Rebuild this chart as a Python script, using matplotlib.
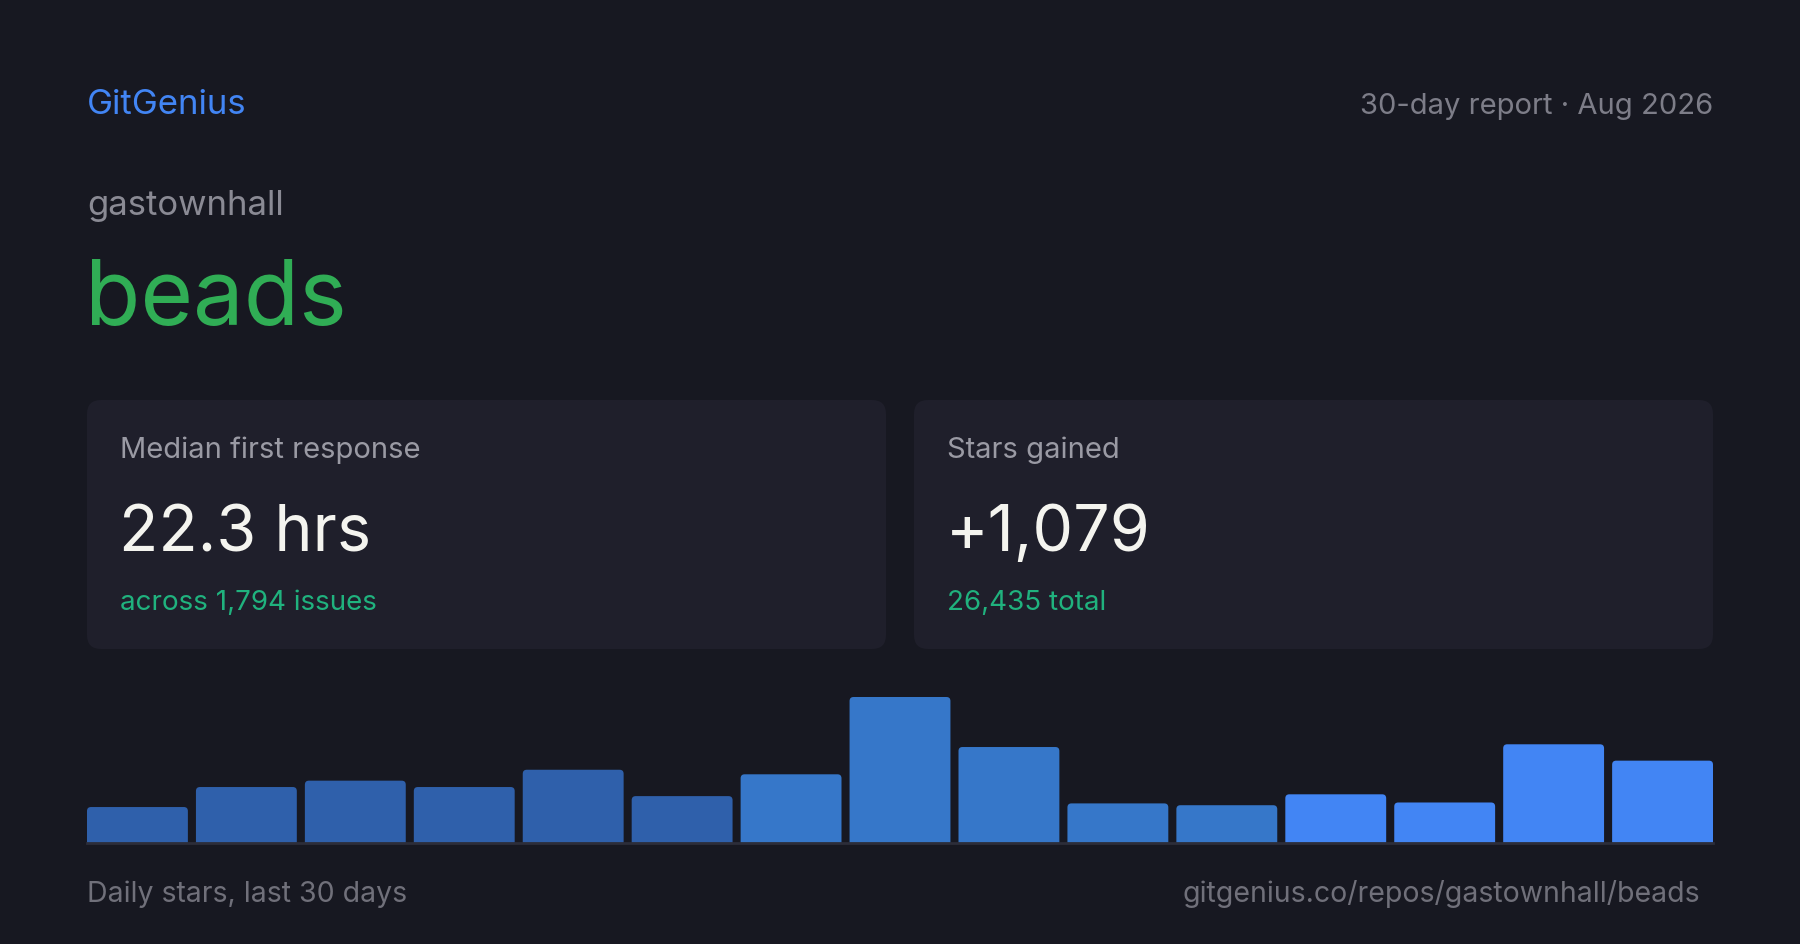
import matplotlib
matplotlib.use('Agg')
import matplotlib.pyplot as plt
from matplotlib.patches import FancyBboxPatch

# data
brand = 'GitGenius'
report_label = '30-day report \u00b7 Aug 2026'
owner = 'gastownhall'
repo = 'beads'
card_titles = ['Median first response', 'Stars gained']
card_values = ['22.3 hrs', '+1,079']
card_notes = ['across 1,794 issues', '26,435 total']
daily_stars = [39, 61, 68, 61, 80, 51, 75, 160, 105, 43, 41, 53, 44, 108, 90]
footer_left = 'Daily stars, last 30 days'
footer_right = 'gitgenius.co/repos/gastownhall/beads'

# colours
BG = '#171821'
CARD = '#1f1f2b'
bar_colors = ['#2f60ab'] * 6 + ['#3677c9'] * 5 + ['#4285f4'] * 4

plt.rcParams['font.family'] = ['Inter', 'DejaVu Sans']

W, H = 1800, 945
fig = plt.figure(figsize=(W / 100, H / 100), dpi=100, facecolor=BG)

# full-figure axes in pixel units for text and cards
ax0 = fig.add_axes([0, 0, 1, 1])
ax0.set_xlim(0, W)
ax0.set_ylim(H, 0)
ax0.axis('off')
ax0.set_facecolor(BG)

ax0.text(87, 114, brand, color='#4285f4', fontsize=25, va='baseline')
ax0.text(1713, 114, report_label, color='#7d7d88', fontsize=21, va='baseline', ha='right')
ax0.text(87, 215, owner, color='#8a8a94', fontsize=25, va='baseline')
ax0.text(85, 324, repo, color='#30ad55', fontsize=65, va='baseline')

card_x = [87, 914]
for i in range(2):
    x = card_x[i]
    ax0.add_patch(FancyBboxPatch((x, 401), 799, 249,
                                 boxstyle='round,pad=0,rounding_size=14',
                                 facecolor=CARD, edgecolor='none'))
    ax0.text(x + 33, 458, card_titles[i], color='#9a9aa4', fontsize=21, va='baseline')
    ax0.text(x + 32, 551, card_values[i], color='#f4f4ef', fontsize=46.5, va='baseline')
    ax0.text(x + 33, 610, card_notes[i], color='#20b27e', fontsize=20, va='baseline')

ax0.text(87, 902, footer_left, color='#70707a', fontsize=20.5, va='baseline')
ax0.text(1700, 902, footer_right, color='#70707a', fontsize=20.5, va='baseline', ha='right')

# bar chart
left_px, right_px, base_px, top_px = 87, 1713, 843.5, 698
ax = fig.add_axes([left_px / W, (H - base_px) / H, (right_px - left_px) / W, (base_px - top_px) / H])
ax.set_facecolor('none')
bw = 0.926
n = len(daily_stars)
ax.set_xlim(-bw / 2, n - 1 + bw / 2)
ax.set_ylim(0, max(daily_stars))
ax.axis('off')

bars = ax.bar(range(n), daily_stars, width=bw, color=bar_colors)
# rounded tops: replace each bar by a rounded box of the same size
px_per_x = (right_px - left_px) / (n - 1 + bw)
px_per_y = (base_px - top_px) / max(daily_stars)
r_px = 4
for b in bars:
    b.set_visible(False)
    rx = r_px / px_per_x
    ry = r_px / px_per_y
    ax.add_patch(FancyBboxPatch((b.get_x(), -ry), b.get_width(), b.get_height() + ry,
                                boxstyle='round,pad=0,rounding_size=%f' % rx,
                                mutation_aspect=ry / rx,
                                facecolor=b.get_facecolor(), edgecolor='none'))
ax.axhline(0, color='#2c2d39', lw=2, clip_on=False)

fig.savefig('out.png', dpi=100, facecolor=BG)
